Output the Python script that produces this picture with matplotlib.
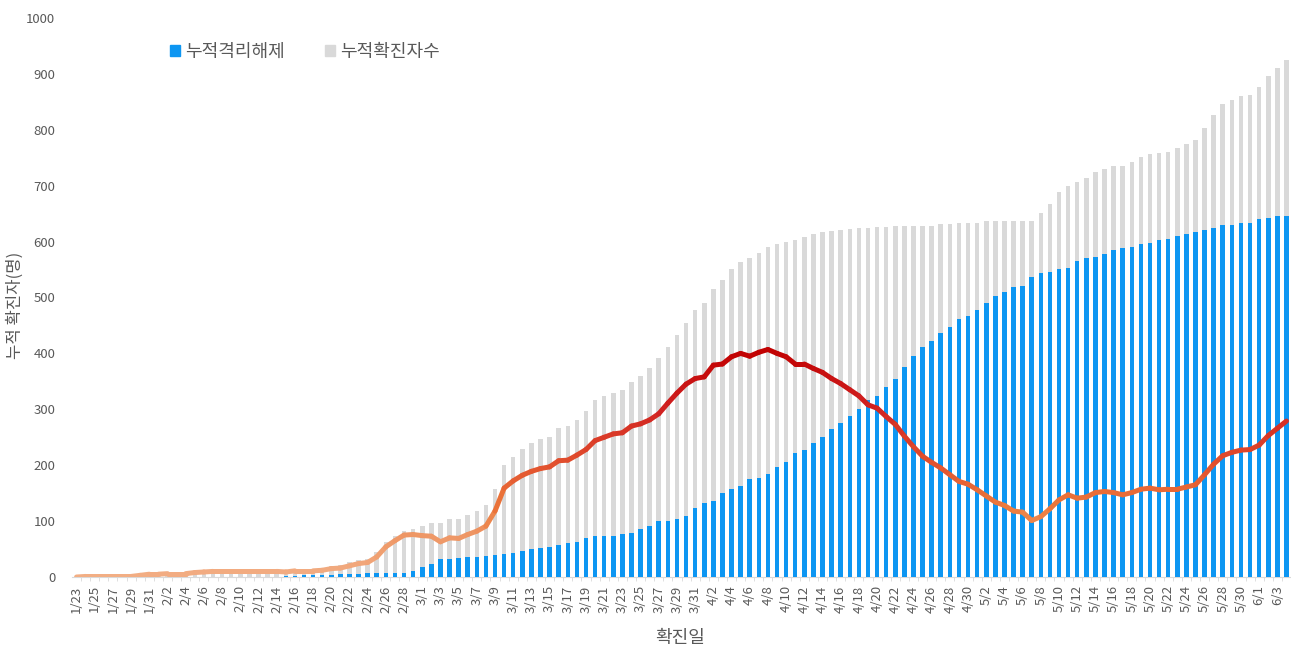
import numpy as np
import pandas as pd
import matplotlib
matplotlib.use('Agg')
import matplotlib.pyplot as plt
from matplotlib.collections import LineCollection
from matplotlib.colors import LinearSegmentedColormap, Normalize
from matplotlib.patches import Patch

plt.rcParams['font.family'] = ['Noto Sans CJK KR', 'DejaVu Sans']

# category axis: one bar per day, 1/23 .. 6/4
dates = pd.date_range('2020-01-23', '2020-06-04')
date_labels = [f'{d.month}/{d.day}' for d in dates]

# cumulative confirmed (grey bars)
confirmed = [
    # Jan 23-31
    0, 1, 1, 1, 1, 1, 1, 3, 5,
    # Feb
    5, 6, 6, 6, 8, 9, 10, 10, 10, 10, 10, 10, 10, 10, 11, 13, 14, 14, 15, 19,
    21, 26, 30, 33, 44, 62, 73, 83, 86,
    # Mar
    91, 96, 96, 103, 103, 111, 118, 128, 157, 200,
    215, 229, 239, 246, 251, 266, 270, 281, 297, 317,
    323, 329, 335, 348, 360, 373, 392, 411, 433, 454, 478,
    # Apr
    491, 515, 531, 551, 563, 570, 579, 591, 596, 600,
    602, 609, 613, 617, 619, 621, 623, 624, 625, 626,
    627, 628, 628, 628, 628, 628, 631, 631, 633, 633,
    # May
    634, 636, 637, 637, 637, 637, 637, 651, 667, 689,
    700, 707, 713, 724, 730, 736, 736, 742, 752, 756,
    758, 761, 767, 774, 782, 803, 827, 846, 853, 861, 862,
    # Jun 1-4
    876, 896, 911, 924,
]

# cumulative released from isolation (blue bars)
released = [
    # Jan 23-31
    0, 0, 0, 0, 0, 0, 0, 0, 0,
    # Feb
    0, 0, 0, 0, 0, 0, 0, 0, 0, 0, 0, 0, 0, 0, 2, 2, 3, 3, 3, 4,
    5, 6, 6, 7, 8, 8, 8, 8, 10,
    # Mar
    17, 23, 33, 33, 34, 35, 36, 37, 39, 41,
    43, 47, 50, 52, 54, 58, 61, 63, 69, 73,
    73, 73, 77, 78, 86, 92, 100, 100, 104, 109, 123,
    # Apr
    133, 136, 150, 157, 163, 175, 177, 184, 196, 206,
    221, 228, 240, 251, 264, 275, 288, 300, 317, 324,
    340, 355, 376, 395, 412, 423, 436, 448, 462, 467,
    # May
    478, 491, 503, 509, 519, 521, 536, 543, 545, 551,
    553, 566, 570, 573, 577, 585, 589, 591, 595, 597,
    602, 604, 610, 613, 617, 620, 625, 629, 630, 634, 634,
    # Jun 1-4
    640, 643, 645, 645,
]

x = np.arange(len(dates))
conf = np.array(confirmed)
rel = np.array(released)
active = conf - rel  # people still isolated

fig = plt.figure(figsize=(12.91, 6.51), dpi=100)
ax = fig.add_axes([72 / 1291, 74 / 651, 1219 / 1291, 559 / 651])

ax.bar(x, conf, width=0.5, color='#D9D9D9', zorder=2)
ax.bar(x, rel, width=0.5, color='#0D96F2', zorder=3)

# line coloured by its own value: light orange -> dark red
cmap = LinearSegmentedColormap.from_list(
    'active', [(0.0, '#F2AE84'), (0.2, '#EE9462'), (0.3, '#EC7A3C'),
               (0.5, '#E2502E'), (0.75, '#D02020'), (1.0, '#C00000')])
pts = np.column_stack([x, active])
segs = np.stack([pts[:-1], pts[1:]], axis=1)
lc = LineCollection(segs, cmap=cmap, norm=Normalize(0, 410),
                    linewidth=3.6, capstyle='round', joinstyle='round', zorder=4)
lc.set_array((active[:-1] + active[1:]) / 2)
ax.add_collection(lc)

ax.set_xlim(-0.5, len(x) - 0.5)
ax.set_ylim(0, 1000)
ax.set_yticks(range(0, 1001, 100))
ax.set_xticks(x[::2])
ax.set_xticklabels(date_labels[::2], rotation=90)
ax.set_xticks(x[:-1] + 0.5, minor=True)
ax.tick_params(axis='y', length=0, pad=12, labelsize=9.5, labelcolor='#595959')
ax.tick_params(axis='x', which='major', length=0, pad=6, labelsize=9.5, labelcolor='#595959')
ax.tick_params(axis='x', which='minor', length=3, color='#D9D9D9')

for side in ['top', 'right', 'left']:
    ax.spines[side].set_visible(False)
ax.spines['bottom'].set_color('#D9D9D9')

handles = [Patch(color='#0D96F2', label='누적격리해제'),
           Patch(color='#D9D9D9', label='누적확진자수')]
ax.legend(handles=handles, loc='center', bbox_to_anchor=(0.191, 0.939), ncol=2,
          frameon=False, fontsize=13, handlelength=0.55, handleheight=0.55,
          handletextpad=0.3, columnspacing=2.2, labelcolor='#595959')

fig.text(15 / 1291, 1 - 305 / 651, '누적 확진자(명)', rotation=90, ha='center',
         va='center', fontsize=12, color='#595959')
fig.text(680 / 1291, 1 - 638 / 651, '확진일', ha='center', va='center',
         fontsize=13, color='#595959')

fig.savefig('out.png', dpi=100)
plt.close(fig)
